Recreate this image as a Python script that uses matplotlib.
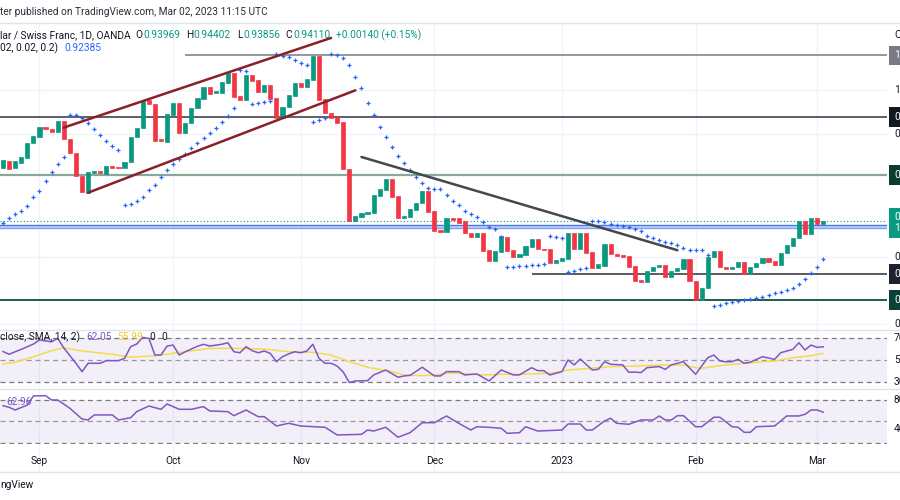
import numpy as np
import pandas as pd
import matplotlib
matplotlib.use("Agg")
import matplotlib.pyplot as plt
import matplotlib.transforms as mtrans
from matplotlib.lines import Line2D

plt.rcParams['font.family'] = ['Roboto', 'DejaVu Sans']

# daily bars, USD/CHF (OANDA) - no bar on Boxing Day
dates = pd.bdate_range('2022-08-24', '2023-03-02')
dates = dates[dates != pd.Timestamp('2022-12-26')]

opens = [0.9650, 0.9681, 0.9647, 0.9670, 0.9692, 0.9761,
         0.9789, 0.9834, 0.9825, 0.9808, 0.9859, 0.9778, 0.9714, 0.9613, 0.9538, 0.9627,
         0.9635, 0.9622, 0.9657, 0.9654, 0.9650, 0.9674, 0.9786, 0.9826, 0.9953, 0.9935,
         0.9778, 0.9766, 0.9886, 0.9941, 0.9804, 0.9849, 0.9916, 0.9958, 1.0013, 0.9983,
         0.9987, 1.0028, 1.0073, 0.9971, 0.9953, 1.0065, 1.0043, 0.9990, 1.0020, 0.9961,
         0.9871, 0.9920, 0.9971, 1.0032, 1.0013, 1.0043, 1.0150, 0.9956, 0.9896, 0.9876,
         0.9856, 0.9643, 0.9411, 0.9430, 0.9442, 0.9445, 0.9524, 0.9550, 0.9598, 0.9524,
         0.9423, 0.9430, 0.9460, 0.9490, 0.9547, 0.9456, 0.9371, 0.9363, 0.9423, 0.9423,
         0.9412, 0.9359, 0.9341, 0.9359, 0.9281, 0.9232, 0.9274, 0.9341, 0.9281, 0.9251,
         0.9259, 0.9296, 0.9329, 0.9287, 0.9284, 0.9222, 0.9233, 0.9239, 0.9356, 0.9284,
         0.9359, 0.9274, 0.9199, 0.9211, 0.9307, 0.9262, 0.9257, 0.9254, 0.9209, 0.9147,
         0.9136, 0.9188, 0.9204, 0.9213, 0.9159, 0.9188, 0.9195, 0.9239, 0.9142, 0.9057,
         0.9110, 0.9248, 0.9278, 0.9206, 0.9195, 0.9206, 0.9226, 0.9174, 0.9204, 0.9224,
         0.9244, 0.9232, 0.9214, 0.9266, 0.9300, 0.9333, 0.9412, 0.9351, 0.9423, 0.93969]
closes = [0.9684, 0.9643, 0.9681, 0.9696, 0.9759, 0.9792,
          0.9831, 0.9822, 0.9808, 0.9859, 0.9778, 0.9714, 0.9613, 0.9542, 0.9629, 0.9635,
          0.9625, 0.9657, 0.9650, 0.9650, 0.9677, 0.9789, 0.9829, 0.9949, 0.9934, 0.9771,
          0.9769, 0.9890, 0.9941, 0.9804, 0.9851, 0.9919, 0.9961, 1.0013, 0.9980, 0.9993,
          1.0034, 1.0073, 0.9968, 0.9953, 1.0065, 1.0040, 0.9990, 1.0023, 0.9959, 0.9871,
          0.9923, 0.9976, 1.0032, 1.0013, 1.0046, 1.0150, 0.9953, 0.9896, 0.9871, 0.9851,
          0.9643, 0.9411, 0.9433, 0.9448, 0.9451, 0.9528, 0.9554, 0.9598, 0.9520, 0.9423,
          0.9433, 0.9463, 0.9493, 0.9547, 0.9453, 0.9366, 0.9363, 0.9426, 0.9415, 0.9403,
          0.9356, 0.9341, 0.9359, 0.9278, 0.9232, 0.9278, 0.9344, 0.9278, 0.9251, 0.9262,
          0.9300, 0.9329, 0.9284, 0.9281, 0.9222, 0.9236, 0.9244, 0.9356, 0.9284, 0.9359,
          0.9266, 0.9199, 0.9218, 0.9307, 0.9262, 0.9254, 0.9251, 0.9206, 0.9144, 0.9136,
          0.9188, 0.9204, 0.9213, 0.9159, 0.9188, 0.9199, 0.9239, 0.9142, 0.9057, 0.9110,
          0.9251, 0.9278, 0.9206, 0.9195, 0.9206, 0.9226, 0.9174, 0.9204, 0.9224, 0.9244,
          0.9229, 0.9214, 0.9269, 0.9303, 0.9336, 0.9412, 0.9351, 0.9423, 0.9397, 0.94110]
last_high, last_low = 0.94402, 0.93856

# parabolic SAR (0.02, 0.02, 0.2)
sar = [0.9403, 0.9423, 0.9442, 0.9457, 0.9480, 0.9520,
       0.9547, 0.9592, 0.9632, 0.9666, 0.9699, 0.9887, 0.9887, 0.9874, 0.9851, 0.9822,
       0.9796, 0.9771, 0.9747, 0.9729, 0.9483, 0.9487, 0.9502, 0.9520, 0.9550, 0.9572,
       0.9609, 0.9639, 0.9665, 0.9687, 0.9711, 0.9737, 0.9759, 0.9782, 0.9804, 0.9829,
       0.9856, 0.9884, 0.9916, 1.0088, 1.0084, 0.9934, 0.9940, 0.9944, 0.9951, 1.0158,
       1.0152, 1.0147, 1.0135, 1.0121, 1.0110, 0.9856, 0.9863, 0.9871, 1.0159, 1.0155,
       1.0140, 1.0110, 1.0058, 1.0007, 0.9941, 0.9886, 0.9831, 0.9786, 0.9741, 0.9702,
       0.9670, 0.9639, 0.9608, 0.9583, 0.9559, 0.9553, 0.9553, 0.9527, 0.9502, 0.9483,
       0.9457, 0.9442, 0.9430, 0.9408, 0.9383, 0.9375, 0.9341, 0.9204, 0.9206, 0.9209,
       0.9211, 0.9214, 0.9214, 0.9217, 0.9344, 0.9338, 0.9333, 0.9184, 0.9188, 0.9195,
       0.9202, 0.9411, 0.9411, 0.9405, 0.9398, 0.9393, 0.9389, 0.9383, 0.9377, 0.9366,
       0.9344, 0.9333, 0.9326, 0.9318, 0.9311, 0.9303, 0.9289, 0.9281, 0.9281, 0.9281,
       0.9259, 0.9030, 0.9035, 0.9042, 0.9047, 0.9054, 0.9057, 0.9063, 0.9067, 0.9072,
       0.9079, 0.9087, 0.9094, 0.9102, 0.9110, 0.9127, 0.9150, 0.9177, 0.9204, 0.92385]

# indicator turning points: bar offset from 2022-09-01 and value
rsi_bar = [-6, -5, -4, -3, -1, 0, 2, 3, 4, 5, 6, 7, 8, 10, 11, 13, 14, 15, 16, 17, 18, 19,
           20, 21, 22, 23, 24, 25, 26, 27, 28, 29, 30, 31, 32, 33, 34, 35, 36, 37, 38, 39,
           40, 41, 42, 43, 44, 45, 46, 47, 48, 49, 50, 51, 52, 54, 55, 57, 59, 60, 61, 63,
           65, 66, 67, 69, 70, 72, 74, 76, 78, 79, 81, 82, 83, 84, 86, 87, 88, 89, 91, 92,
           93, 94, 96, 97, 98, 99, 100, 102, 103, 104, 106, 108, 110, 111, 112, 113, 114,
           115, 116, 117, 119, 121, 122, 124, 125, 126, 127, 128, 129]
rsi_val = [57.7, 55.2, 57.5, 59.7, 64.5, 68.2, 66.6, 69.7, 61.0, 54.0, 47.0, 39.4, 47.0,
           47.0, 49.4, 49.4, 51.5, 62.1, 64.5, 70.6, 69.7, 54.5, 54.5, 62.7, 63.6, 54.5,
           57.5, 60.0, 62.5, 64.3, 62.7, 63.5, 64.3, 65.7, 57.5, 56.6, 62.1, 58.5, 56.6,
           58.2, 56.0, 48.5, 53.0, 55.5, 57.5, 56.6, 58.2, 64.3, 51.5, 47.0, 47.0, 44.5,
           39.0, 29.5, 30.9, 31.2, 36.4, 40.9, 34.3, 35.5, 36.0, 43.4, 35.5, 35.5, 39.4,
           39.4, 36.4, 37.3, 30.9, 40.9, 36.4, 36.4, 43.0, 40.3, 40.3, 36.4, 39.4, 50.0,
           45.5, 50.9, 40.9, 41.5, 48.5, 46.1, 45.5, 38.8, 39.0, 38.5, 43.0, 44.0, 41.5,
           45.5, 48.5, 37.0, 52.1, 54.5, 49.1, 48.3, 48.5, 50.6, 47.0, 48.0, 53.0, 50.6,
           56.6, 59.7, 65.7, 59.1, 63.6, 61.5, 62.05]
sma_bar = [-6, -4, -1, 2, 4, 7, 12, 15, 19, 24, 28, 32, 37, 41, 45, 48, 51, 54, 58, 60, 63,
           66, 68, 70, 73, 76, 78, 81, 84, 87, 91, 94, 98, 103, 106, 108, 109, 113, 117,
           121, 124, 127, 129]
sma_val = [46.4, 47.9, 53.0, 58.5, 61.2, 58.2, 55.2, 52.5, 53.9, 57.5, 60.6, 60.6, 60.0,
           57.5, 57.0, 54.5, 48.5, 43.4, 39.4, 36.4, 35.7, 37.0, 38.5, 37.3, 36.4, 37.0,
           37.0, 37.3, 37.9, 40.9, 42.5, 43.9, 44.5, 45.5, 45.5, 43.0, 42.5, 45.5, 47.5,
           49.1, 52.1, 53.9, 55.99]
osc_bar = [-6, -5, -4, -2, -1, 1, 2, 3, 5, 7, 8, 9, 12, 13, 15, 16, 18, 20, 21, 23, 25, 27,
           28, 31, 32, 34, 36, 37, 39, 41, 43, 47, 49, 53, 54, 55, 57, 59, 61, 63, 65, 67,
           69, 71, 72, 74, 76, 77, 79, 80, 82, 86, 87, 89, 90, 91, 93, 94, 95, 97, 99, 101,
           102, 103, 104, 105, 106, 108, 109, 111, 112, 114, 115, 116, 117, 118, 121, 123,
           125, 126, 127, 128, 129]
osc_val = [72.0, 69.8, 66.0, 73.0, 85.6, 86.0, 80.0, 80.0, 68.4, 53.5, 52.1, 59.1, 59.1,
           52.1, 55.3, 63.7, 71.6, 67.0, 74.4, 67.0, 67.0, 70.7, 64.7, 63.7, 58.1, 66.0,
           56.7, 56.7, 43.7, 47.5, 43.7, 41.9, 31.2, 32.1, 38.1, 36.7, 41.9, 28.0, 34.4,
           48.3, 48.3, 57.7, 47.5, 38.1, 42.7, 41.9, 40.5, 33.5, 34.4, 42.7, 36.7, 38.1,
           46.5, 46.5, 38.1, 38.1, 50.7, 54.5, 47.5, 46.1, 52.1, 52.1, 57.7, 52.1, 52.1,
           58.1, 58.1, 42.7, 42.7, 55.9, 55.9, 42.7, 41.9, 34.9, 34.9, 42.7, 43.7, 57.7,
           57.7, 60.0, 66.0, 66.0, 62.96]

# drawn levels and trend lines (price, start date)
hlevels = [(1.0155, '2022-10-05'), (0.98774, None), (0.96173, None),
           (0.91733, '2022-12-23'), (0.90567, None)]
channel_up = [('2022-09-07', 0.9830), ('2022-11-08', 1.0232)]
channel_dn = [('2022-09-13', 0.9538), ('2022-11-14', 0.9997)]
down_line = [('2022-11-15', 0.9698), ('2023-01-27', 0.9280)]
sr_band = (0.9381, 0.9393)

GREEN, RED = '#089981', '#f23645'
PURPLE, YELLOW = '#7e57c2', '#f2dc4a'
DARK = '#131722'
W, H = 900, 500
right = 887
FS = 7.3

bars = np.arange(len(dates)) - dates.get_loc(pd.Timestamp('2022-09-01'))
pos = {d: b for d, b in zip(dates, bars)}
def bx(d):
    return pos[pd.Timestamp(d)]

fig = plt.figure(figsize=(9, 5), dpi=100)
fig.patch.set_facecolor('white')

def frame(top, bottom):
    return [0, 1 - bottom / H, right / W, (bottom - top) / H]

ax = fig.add_axes(frame(24, 329))
ax1 = fig.add_axes(frame(331, 388))
ax2 = fig.add_axes(frame(389, 444))
axt = fig.add_axes(frame(444, 472))

month_first = [i for i in range(1, len(dates)) if dates[i].month != dates[i - 1].month]
month_names = ['2023' if dates[i].month == 1 else dates[i].strftime('%b') for i in month_first]

for a in (ax, ax1, ax2, axt):
    a.set_xlim(-6.5, 139.5)
    a.set_xticks([])
    a.set_yticks([])
    for s in a.spines.values():
        s.set_visible(False)
    for i in month_first:
        a.axvline(bars[i], color='#f0f3fa', lw=1, zorder=0)

# ---- main price pane
ax.set_ylim(0.89267, 1.02944)
price_ticks = [1.0, 0.98, 0.925, 0.895]
for p in price_ticks:
    ax.axhline(p, color='#f0f3fa', lw=1, zorder=0)

o = np.array(opens)
c = np.array(closes)
col = np.where(c >= o, GREEN, RED)
ax.bar(bars, np.abs(c - o), bottom=np.minimum(o, c), width=0.68, color=col,
       edgecolor=col, linewidth=0.5, zorder=3)
ax.scatter(bars, sar, marker='+', s=8, color='#2962ff', linewidths=0.9, zorder=4)

level_style = [('#9598a1', 1.4, '#787b86'), ('#5d606b', 1.4, DARK),
               ('#86a99c', 1.6, '#083d31'), ('#3d4049', 1.2, '#1e222d'),
               ('#1f5c4b', 1.4, '#0b4136')]
for (p, start), (lc, lw, tag) in zip(hlevels, level_style):
    x0 = bx(start) if start else -6.5
    ax.hlines(p, x0, 139.5, color=lc, lw=lw, zorder=2)

ax.axhspan(*sr_band, color='#c3d3f8', zorder=1, lw=0)
ax.axhline(sr_band[0], color='#7fa2f0', lw=1, zorder=1)
ax.axhline(sr_band[1], color='#4b78e8', lw=1, zorder=1)
ax.axhline(closes[-1], color=GREEN, lw=0.8, ls=(0, (1, 2)), zorder=2)

for seg, lc in ((channel_up, '#8b1f28'), (channel_dn, '#8b1f28'), (down_line, '#45474f')):
    ax.plot([bx(seg[0][0]), bx(seg[1][0])], [seg[0][1], seg[1][1]], color=lc, lw=1.8,
            solid_capstyle='round', zorder=5)

# right price scale (cut by the screenshot edge)
tr = mtrans.blended_transform_factory(ax.transAxes, ax.transData)
xlab = 894 / right
for p in price_ticks:
    ax.text(xlab, p, f'{p:.5f}', transform=tr, va='center', ha='left', fontsize=FS,
            color=DARK, clip_on=False)
ax.text(xlab, 1.0244, 'CHF', transform=tr, va='center', ha='left', fontsize=FS,
        color=DARK, clip_on=False)
for (p, start), (lc, lw, tag) in zip(hlevels, level_style):
    ax.text(xlab, p, f'{p:.5f}', transform=tr, va='center', ha='left', fontsize=FS,
            color='white', clip_on=False, zorder=10,
            bbox=dict(boxstyle='square,pad=0.45', fc=tag, ec='none'))
ax.text(xlab, closes[-1] - 0.0008, f'{closes[-1]:.5f}\n12:44:37', transform=tr, va='center',
        ha='left', fontsize=FS, color='white', clip_on=False, zorder=10, linespacing=1.1,
        bbox=dict(boxstyle='square,pad=0.45', fc=GREEN, ec='none'))

# ---- indicator panes
ax1.set_ylim(24.5, 76.4)
ax1.axhspan(30, 70, color=PURPLE, alpha=0.09, lw=0, zorder=0)
for lv, cl in ((70, '#787b86'), (50, '#9598a1'), (30, '#787b86')):
    ax1.axhline(lv, color=cl, lw=0.9, ls=(0, (4, 3)), zorder=1)
ax1.plot(sma_bar, sma_val, color=YELLOW, lw=1.1, zorder=2)
ax1.plot(rsi_bar, rsi_val, color=PURPLE, lw=1.1, zorder=3)

ax2.set_ylim(18.6, 95.3)
ax2.axhspan(20, 80, color=PURPLE, alpha=0.09, lw=0, zorder=0)
ax2.axhline(40, color='#eceef4', lw=0.8, zorder=0)
for lv, cl in ((80, '#787b86'), (50, '#9598a1'), (20, '#787b86')):
    ax2.axhline(lv, color=cl, lw=0.9, ls=(0, (4, 3)), zorder=1)
ax2.plot(osc_bar, osc_val, color=PURPLE, lw=1.1, zorder=3)

for a, labs in ((ax1, (70, 50, 30)), (ax2, (80, 40))):
    t = mtrans.blended_transform_factory(a.transAxes, a.transData)
    for v in labs:
        a.text(xlab, v, f'{v:.2f}', transform=t, va='center', ha='left', fontsize=FS,
               color=DARK, clip_on=False)

# ---- time scale
tt = mtrans.blended_transform_factory(axt.transData, axt.transAxes)
for i, name in zip(month_first, month_names):
    axt.text(bars[i], 0.39, name, transform=tt, ha='center', va='center', fontsize=FS,
             color=DARK)

# pane separators
for yy in (23, 330, 388.5, 472):
    fig.add_artist(Line2D([0, 1], [1 - yy / H] * 2, color='#e0e3eb', lw=1))

# ---- header and legends (pieces laid out one after another)
renderer = fig.canvas.get_renderer()

def chain(y, pieces, x=0):
    for s, color, gap in pieces:
        x += gap
        t = fig.text(x / W, 1 - y / H, s, color=color, fontsize=FS, ha='left', va='center')
        x = t.get_window_extent(renderer).x1

chg = closes[-1] - closes[-2]
chain(12, [('ter published on TradingView.com, Mar 02, 2023 11:15 UTC', '#2a2e39', 0)])
chain(35, [('lar / Swiss Franc, 1D, OANDA', DARK, 0),
           ('O', DARK, 5), (f'{opens[-1]:.5f}', GREEN, 0.5),
           ('H', DARK, 6), (f'{last_high:.5f}', GREEN, 0.5),
           ('L', DARK, 6), (f'{last_low:.5f}', GREEN, 0.5),
           ('C', DARK, 6), (f'{closes[-1]:.5f}', GREEN, 0.5),
           (f'+{chg:.5f} (+{chg / closes[-2] * 100:.2f}%)', GREEN, 6)])
chain(48, [('02, 0.02, 0.2)', DARK, 0), (f'{sar[-1]:.5f}', '#2962ff', 6)])
chain(337, [('close, SMA, 14, 2)', DARK, 0), (f'{rsi_val[-1]:.2f}', PURPLE, 6),
            (f'{sma_val[-1]:.2f}', '#e8cf2a', 6), ('0', DARK, 6), ('0', DARK, 6)])
chain(402, [(f'{osc_val[-1]:.2f}', PURPLE, 0)], x=6)
chain(485, [('ngView', DARK, 0)])

fig.savefig('out.png', dpi=100)
